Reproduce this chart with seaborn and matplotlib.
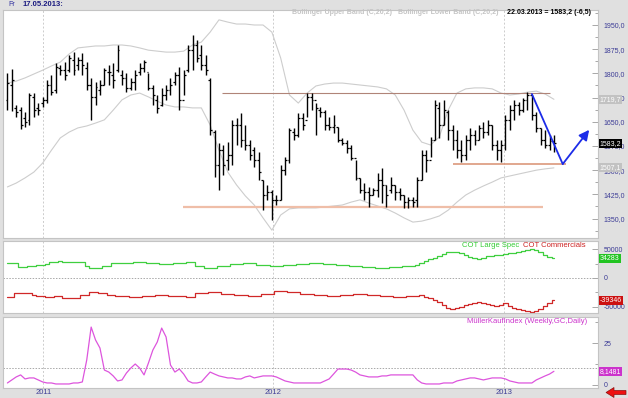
import pandas as pd
import matplotlib
matplotlib.use("Agg")
import matplotlib.pyplot as plt
from matplotlib.ticker import MultipleLocator, FixedLocator, FuncFormatter
from matplotlib.patches import Polygon
import seaborn as sns

# weekly bars (Friday), 05.11.2010 .. 22.03.2013
weeks = pd.date_range("2010-11-05", periods=125, freq="W-FRI")

opens = [1718, 1764, 1693, 1686, 1662, 1656, 1727, 1693, 1708, 1718,
         1764, 1748, 1817, 1810, 1810, 1842, 1826, 1842, 1817, 1764,
         1727, 1748, 1764, 1804, 1795, 1810, 1795, 1786, 1755, 1773,
         1804, 1817, 1804, 1755, 1718, 1702, 1733, 1748, 1773, 1795,
         1718, 1810, 1872, 1888, 1857, 1826, 1779, 1618, 1516, 1562,
         1531, 1547, 1640, 1640, 1594, 1578, 1562, 1531, 1470, 1423,
         1432, 1408, 1408, 1500, 1531, 1618, 1609, 1662, 1656, 1727,
         1718, 1686, 1680, 1640, 1634, 1634, 1594, 1584, 1569, 1538,
         1476, 1438, 1432, 1423, 1438, 1470, 1454, 1438, 1454, 1432,
         1423, 1401, 1408, 1408, 1470, 1547, 1531, 1594, 1693, 1640,
         1680, 1624, 1594, 1562, 1547, 1594, 1609, 1594, 1631, 1618,
         1640, 1578, 1562, 1578, 1656, 1686, 1702, 1686, 1718, 1733,
         1671, 1631, 1594, 1578, 1590]
highs = [1801, 1814, 1702, 1696, 1680, 1739, 1739, 1708, 1727, 1779,
         1795, 1832, 1826, 1835, 1857, 1866, 1851, 1863, 1835, 1786,
         1773, 1779, 1817, 1826, 1832, 1888, 1810, 1801, 1786, 1810,
         1832, 1842, 1801, 1764, 1733, 1755, 1764, 1786, 1804, 1820,
         1810, 1888, 1919, 1904, 1888, 1857, 1786, 1624, 1584, 1578,
         1587, 1656, 1662, 1677, 1640, 1594, 1572, 1556, 1470, 1454,
         1438, 1423, 1516, 1541, 1631, 1631, 1677, 1677, 1739, 1739,
         1708, 1696, 1686, 1665, 1671, 1634, 1600, 1594, 1578, 1531,
         1476, 1460, 1448, 1445, 1491, 1507, 1454, 1479, 1454, 1445,
         1423, 1417, 1417, 1479, 1562, 1562, 1603, 1718, 1711, 1718,
         1686, 1640, 1624, 1594, 1609, 1631, 1624, 1640, 1649, 1656,
         1640, 1594, 1594, 1671, 1702, 1718, 1711, 1724, 1742, 1733,
         1680, 1631, 1624, 1609, 1609]
lows = [1686, 1683, 1665, 1628, 1634, 1640, 1665, 1671, 1696, 1708,
        1733, 1739, 1795, 1779, 1804, 1795, 1810, 1795, 1748, 1656,
        1702, 1733, 1764, 1764, 1755, 1804, 1764, 1742, 1748, 1748,
        1795, 1804, 1748, 1702, 1677, 1700, 1718, 1733, 1764, 1686,
        1733, 1804, 1810, 1835, 1810, 1795, 1609, 1479, 1438, 1485,
        1500, 1516, 1578, 1572, 1562, 1531, 1510, 1470, 1376, 1408,
        1346, 1392, 1408, 1485, 1522, 1594, 1603, 1624, 1665, 1686,
        1609, 1665, 1624, 1624, 1615, 1587, 1578, 1553, 1531, 1470,
        1429, 1408, 1386, 1423, 1417, 1398, 1386, 1429, 1408, 1408,
        1383, 1383, 1386, 1386, 1470, 1494, 1541, 1594, 1600, 1640,
        1594, 1562, 1538, 1525, 1531, 1562, 1578, 1594, 1600, 1609,
        1562, 1531, 1525, 1562, 1624, 1656, 1671, 1680, 1686, 1656,
        1618, 1578, 1569, 1562, 1556]
closes = [1770, 1779, 1680, 1640, 1649, 1733, 1686, 1686, 1718, 1764,
          1742, 1820, 1810, 1795, 1848, 1810, 1842, 1826, 1764, 1727,
          1758, 1764, 1810, 1804, 1779, 1872, 1786, 1755, 1773, 1795,
          1817, 1835, 1755, 1733, 1693, 1733, 1748, 1764, 1795, 1718,
          1795, 1872, 1888, 1848, 1826, 1810, 1624, 1516, 1562, 1516,
          1547, 1640, 1640, 1594, 1578, 1547, 1531, 1494, 1423, 1432,
          1408, 1408, 1500, 1531, 1624, 1609, 1662, 1640, 1727, 1718,
          1693, 1680, 1640, 1634, 1640, 1594, 1584, 1569, 1538, 1476,
          1438, 1432, 1423, 1438, 1470, 1454, 1423, 1454, 1432, 1423,
          1401, 1408, 1401, 1470, 1547, 1531, 1594, 1702, 1640, 1686,
          1624, 1594, 1562, 1547, 1594, 1609, 1594, 1631, 1618, 1640,
          1578, 1562, 1578, 1656, 1686, 1702, 1686, 1718, 1733, 1671,
          1631, 1594, 1578, 1590, 1583.2]

# Bollinger bands, read every second week
band_dates = weeks[::2]
upper_band = [1770, 1776, 1786, 1798, 1810, 1823, 1835, 1860, 1879, 1882,
              1885, 1885, 1888, 1888, 1885, 1879, 1872, 1869, 1866, 1866,
              1869, 1888, 1897, 1928, 1966, 1959, 1953, 1953, 1950, 1950,
              1928, 1848, 1733, 1708, 1739, 1761, 1767, 1770, 1770, 1767,
              1764, 1761, 1758, 1752, 1733, 1686, 1624, 1587, 1578, 1603,
              1686, 1739, 1752, 1755, 1755, 1752, 1739, 1733, 1736, 1742,
              1745, 1736, 1719.7]
lower_band = [1448, 1460, 1476, 1494, 1522, 1562, 1600, 1618, 1631, 1637,
              1646, 1656, 1686, 1718, 1733, 1739, 1727, 1714, 1702, 1696,
              1696, 1693, 1693, 1640, 1562, 1494, 1454, 1420, 1392, 1352,
              1314, 1361, 1380, 1383, 1383, 1383, 1386, 1389, 1392, 1401,
              1408, 1398, 1389, 1380, 1367, 1352, 1339, 1342, 1349, 1358,
              1376, 1401, 1423, 1438, 1451, 1463, 1476, 1482, 1488, 1494,
              1500, 1504, 1507.1]

cot_large_spec = [26300, 26300, 26300, 19300, 19300, 21100, 21100, 22800, 22800, 24600,
                  28100, 28100, 29800, 28100, 28100, 28100, 28100, 28100, 21100, 17500,
                  17500, 17500, 21100, 21100, 26300, 26300, 26300, 26300, 26300, 28100,
                  28100, 28100, 26300, 26300, 26300, 24600, 24600, 24600, 26300, 26300,
                  26300, 28100, 28100, 21100, 21100, 17500, 17500, 17500, 21100, 21100,
                  21100, 24600, 24600, 24600, 26300, 26300, 26300, 22800, 22800, 22800,
                  21100, 21100, 21100, 22800, 22800, 22800, 24600, 24600, 24600, 26300,
                  26300, 26300, 24600, 24600, 24600, 22800, 22800, 22800, 21100, 21100,
                  21100, 19300, 19300, 19300, 17500, 17500, 17500, 19300, 19300, 19300,
                  21100, 21100, 21100, 22800, 26300, 29800, 33300, 35100, 38600, 42100,
                  45600, 45600, 45600, 43900, 40400, 36800, 35100, 33300, 35100, 38600,
                  38600, 40400, 40400, 42100, 43900, 43900, 45600, 47400, 49100, 50900,
                  49100, 45600, 40400, 36800, 34283]
cot_commercials = [-33300, -33300, -26300, -26300, -26300, -26300, -29800, -31600, -31600, -33300,
                   -33300, -31600, -31600, -35100, -35100, -35100, -35100, -29800, -29800, -24600,
                   -24600, -26300, -26300, -29800, -29800, -31600, -31600, -31600, -33300, -33300,
                   -33300, -31600, -31600, -31600, -29800, -29800, -29800, -31600, -31600, -31600,
                   -31600, -33300, -33300, -26300, -26300, -26300, -24600, -24600, -24600, -28100,
                   -28100, -28100, -29800, -29800, -29800, -31600, -31600, -31600, -28100, -28100,
                   -28100, -22800, -22800, -22800, -24600, -24600, -24600, -28100, -28100, -28100,
                   -29800, -29800, -29800, -31600, -31600, -31600, -29800, -29800, -29800, -28100,
                   -28100, -28100, -29800, -29800, -29800, -31600, -31600, -31600, -33300, -33300,
                   -33300, -31600, -31600, -31600, -29800, -33300, -35100, -38600, -42100, -47400,
                   -52600, -54400, -52600, -50900, -47400, -45600, -43900, -42100, -43900, -45600,
                   -47400, -49100, -47400, -43900, -49100, -52600, -54400, -56100, -57900, -59600,
                   -57900, -54400, -49100, -43900, -39346]
mueller_index = [1.2, 3.0, 4.8, 6.0, 3.6, 4.2, 4.2, 3.0, 1.8, 1.2,
                 1.2, 0.6, 0.6, 0.6, 0.6, 1.2, 1.2, 1.8, 14.9, 34.5,
                 26.8, 22.0, 8.9, 7.7, 5.4, 2.4, 3.0, 7.1, 10.1, 12.5,
                 10.1, 6.0, 13.1, 20.8, 25.6, 33.9, 28.6, 11.9, 7.7, 9.5,
                 6.5, 2.4, 1.2, 1.2, 1.8, 4.8, 7.7, 6.5, 5.4, 4.8,
                 4.2, 4.2, 3.6, 3.6, 4.8, 5.4, 4.2, 4.8, 5.4, 5.4,
                 5.4, 4.8, 3.6, 2.4, 1.8, 1.2, 1.2, 1.2, 1.2, 1.2,
                 1.2, 1.2, 2.4, 3.6, 6.5, 9.5, 9.5, 9.5, 8.9, 7.7,
                 6.0, 5.4, 4.8, 4.8, 4.8, 5.4, 5.4, 6.0, 6.0, 6.0,
                 6.0, 6.0, 6.0, 3.0, 1.2, 0.6, 0.6, 0.6, 0.6, 1.2,
                 1.2, 1.2, 2.4, 3.0, 3.6, 4.2, 4.2, 3.6, 3.0, 3.6,
                 4.2, 4.2, 4.2, 3.6, 2.4, 1.8, 1.2, 1.2, 1.2, 1.2,
                 3.0, 4.2, 5.4, 6.5, 8.1481]

# drawn-in support / resistance lines and the forecast arrow
levels = [1739, 1519, 1386]
level_from = ["2011-10-12", "2012-10-13", "2011-08-11"]
level_to = ["2013-03-16", "2013-04-10", "2013-03-05"]
level_colors = ["#b08478", "#d98f70", "#efbea8"]
level_widths = [0.8, 1.1, 1.6]
forecast_dates = ["2013-02-15", "2013-04-05", "2013-05-17"]
forecast_prices = [1736, 1519, 1625]

year_starts = pd.to_datetime(["2011-01-01", "2012-01-01", "2013-01-01"])
year_labels = ["2011", "2012", "2013"]

sns.set_theme(style="white")
plt.rcParams["font.family"] = ["Liberation Sans", "DejaVu Sans"]

W, H = 628, 398
fig = plt.figure(figsize=(W / 100, H / 100), dpi=100, facecolor="#e0e0e0")


def panel(top, bottom):
    return fig.add_axes([3 / W, 1 - bottom / H, 595 / W, (bottom - top) / H])


ax1 = panel(10, 238)
ax2 = panel(241, 313)
ax3 = panel(317, 388)

lab_col = "#3c3c96"
xlim = (pd.Timestamp("2010-10-29"), pd.Timestamp("2013-05-31"))

# --- price panel ---
sns.lineplot(x=band_dates, y=upper_band, ax=ax1, color="#cdcdcd", lw=0.8, legend=False)
sns.lineplot(x=band_dates, y=lower_band, ax=ax1, color="#cdcdcd", lw=0.8, legend=False)

tick = pd.Timedelta(days=3)
ax1.vlines(weeks, lows, highs, color="black", lw=1.0, zorder=3)
ax1.hlines(opens, weeks - tick, weeks, color="black", lw=0.9, zorder=3)
ax1.hlines(closes, weeks, weeks + tick, color="black", lw=0.9, zorder=3)

ax1.hlines(levels, pd.to_datetime(level_from), pd.to_datetime(level_to),
           colors=level_colors, linewidths=level_widths, zorder=2)

fd = pd.to_datetime(forecast_dates)
ax1.plot(fd[:2], forecast_prices[:2], color="#1c2ce8", lw=1.3, zorder=4)
ax1.annotate("", xy=(fd[2], forecast_prices[2]), xytext=(fd[1], forecast_prices[1]),
             arrowprops=dict(arrowstyle="-|>", color="#1c2ce8", lw=1.3,
                             mutation_scale=15, shrinkA=0, shrinkB=0), zorder=4)

ax1.set_ylim(1289.7, 1996.5)
ax1.yaxis.set_major_locator(MultipleLocator(75))
ax1.yaxis.set_minor_locator(MultipleLocator(37.5))
ax1.yaxis.set_major_formatter(FuncFormatter(lambda v, p: f"{v:.1f}".replace(".", ",")))

# --- COT panel ---
sns.lineplot(x=weeks, y=cot_large_spec, ax=ax2, color="#3fcf3f", lw=0.9,
             drawstyle="steps-mid", legend=False)
sns.lineplot(x=weeks, y=cot_commercials, ax=ax2, color="#d02828", lw=0.9,
             drawstyle="steps-mid", legend=False)
ax2.axhline(0, color="#a8a8a8", lw=0.7, ls=(0, (1.5, 1.5)), zorder=1)
ax2.set_ylim(-61400, 64900)
ax2.yaxis.set_major_locator(FixedLocator([-50000, 0, 50000]))
ax2.yaxis.set_minor_locator(MultipleLocator(25000))
ax2.yaxis.set_major_formatter(FuncFormatter(lambda v, p: f"{v:.0f}"))
ax2.text(0.771, 0.94, "COT Large Spec", transform=ax2.transAxes, color="#33cc33",
         fontsize=5.5, va="center", ha="left")
ax2.text(0.874, 0.94, "COT Commercials", transform=ax2.transAxes, color="#cc2222",
         fontsize=5.5, va="center", ha="left")

# --- Mueller panel ---
sns.lineplot(x=weeks, y=mueller_index, ax=ax3, color="#dd55dd", lw=0.9, legend=False)
ax3.axhline(10, color="#a8a8a8", lw=0.7, ls=(0, (1.5, 1.5)), zorder=1)
ax3.set_ylim(-1.8, 40.5)
ax3.yaxis.set_major_locator(FixedLocator([0, 25]))
ax3.yaxis.set_minor_locator(MultipleLocator(12.5))
ax3.yaxis.set_major_formatter(FuncFormatter(lambda v, p: f"{v:.0f}"))
ax3.text(0.981, 0.94, "MüllerKaufIndex (Weekly,GC,Daily)", transform=ax3.transAxes,
         color="#cc33cc", fontsize=5.5, va="center", ha="right")

for ax in (ax1, ax2, ax3):
    ax.set_facecolor("white")
    for s in ax.spines.values():
        s.set_color("#c4c4c4")
        s.set_linewidth(0.8)
    ax.yaxis.tick_right()
    ax.tick_params(axis="y", which="major", direction="in", length=4, width=0.6,
                   color="#9a9a9a", labelsize=5, labelcolor=lab_col, pad=4)
    ax.tick_params(axis="y", which="minor", direction="in", length=2.5, width=0.6,
                   color="#9a9a9a")
    ax.tick_params(axis="x", length=0, labelsize=5.5, labelcolor=lab_col, pad=0.8)
    ax.set_xlim(*xlim)
    ax.set_xticks(year_starts)
    ax.set_xticklabels(year_labels if ax is ax3 else [])
    for d in year_starts:
        ax.axvline(d, color="#cccccc", lw=0.7, ls=(0, (2, 2)), zorder=0)
    ax.set_xlabel("")
    ax.set_ylabel("")
    ax.xaxis.label.set_visible(False)
    ax.yaxis.label.set_visible(False)


def tag(ax, y, text, fc):
    ax.text(1.003, y, text, transform=ax.get_yaxis_transform(), fontsize=5,
            color="white", ha="left", va="center", clip_on=False, zorder=10,
            bbox=dict(boxstyle="square,pad=0.15", fc=fc, ec="none"))


tag(ax1, upper_band[-1], "1719,7", "#c2c2c2")
tag(ax1, closes[-1], "1583,2", "black")
tag(ax1, lower_band[-1], "1507,1", "#c2c2c2")
tag(ax2, cot_large_spec[-1], "34283", "#22c422")
tag(ax2, cot_commercials[-1], "-39346", "#cc1010")
tag(ax3, mueller_index[-1], "8,1481", "#cc33cc")

# header texts
fig.text(8 / W, 1 - 5 / H, "Fr", fontsize=5, color="#3030a0", va="center")
fig.text(23 / W, 1 - 5 / H, "17.05.2013:", fontsize=5.5, color="#1a1a80",
         fontweight="bold", va="center")
fig.text(292 / W, 1 - 12.5 / H, "Bollinger Upper Band (C,20,2)", fontsize=5,
         color="#c4c4c4", fontweight="bold", va="center")
fig.text(398 / W, 1 - 12.5 / H, "Bollinger Lower Band (C,20,2)", fontsize=5,
         color="#c4c4c4", fontweight="bold", va="center")
fig.text(507 / W, 1 - 12.5 / H, "22.03.2013 = 1583,2 (-6,5)", fontsize=5,
         color="black", fontweight="bold", va="center")

# red scroll arrow in the corner
pts = [(606, 392.5), (614, 387.5), (614, 390.5), (626, 390.5),
       (626, 394.5), (614, 394.5), (614, 397.5)]
fig.patches.append(Polygon([(x / W, 1 - y / H) for x, y in pts], closed=True,
                           transform=fig.transFigure, fc="#ee1111", ec="#881111", lw=0.5))

fig.savefig("out.png", dpi=100, facecolor=fig.get_facecolor())
